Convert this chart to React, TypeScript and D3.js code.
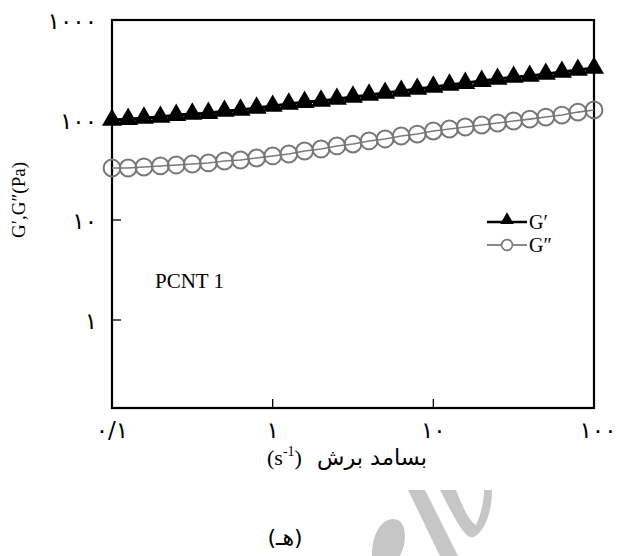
import React from "react";
import * as d3 from "d3";

const freq: number[] = [
  0.1, 0.126, 0.158, 0.2, 0.251, 0.316, 0.398, 0.501, 0.631, 0.794,
  1, 1.26, 1.58, 2, 2.51, 3.16, 3.98, 5.01, 6.31, 7.94,
  10, 12.6, 15.8, 20, 25.1, 31.6, 39.8, 50.1, 63.1, 79.4, 100,
];
const gPrime: number[] = [
  100, 102, 105, 107, 112, 115, 117, 123, 126, 132,
  138, 145, 151, 155, 162, 170, 178, 186, 195, 204,
  214, 224, 234, 245, 257, 269, 275, 288, 302, 316, 331,
];
const gDouble: number[] = [
  33.1, 33.1, 33.9, 34.7, 35.5, 36.3, 37.2, 38.9, 39.8, 41.7,
  43.7, 45.7, 49.0, 51.3, 55.0, 57.5, 61.7, 64.6, 69.2, 72.4,
  77.6, 81.3, 85.1, 89.1, 93.3, 97.7, 102, 107, 112, 120, 126,
];
const xTicks: number[] = [0.1, 1, 10, 100];
const xTickLabels: string[] = ["۰/۱", "۱", "۱۰", "۱۰۰"];
const yTicks: number[] = [1, 10, 100, 1000];
const yTickLabels: string[] = ["۱", "۱۰", "۱۰۰", "۱۰۰۰"];

const W = 618;
const H = 556;
const left = 112;
const right = 594;
const top = 20;
const bottom = 408;

const serif = "'Liberation Serif', 'Times New Roman', serif";
const arab = "'DejaVu Sans', sans-serif";

export default function App() {
  const x = d3.scaleLog().domain([0.1, 100]).range([left, right]);
  const y = d3.scaleLog().domain([1, 1000]).range([320, top]);

  const line = d3
    .line<number>()
    .x((_, i) => x(freq[i]))
    .y((d) => y(d));

  const tri = d3.symbol().type(d3.symbolTriangle).size(175)();
  const triSmall = d3.symbol().type(d3.symbolTriangle).size(80)();

  return (
    <svg
      width={W}
      height={H}
      style={{ position: "absolute", left: 0, top: 0, background: "#fff" }}
    >
      <rect x={0} y={0} width={W} height={H} fill="#fff" />
      {/* watermark */}
      <g fill="#c6c6c6">
        <path d="M372,556 C372,530 385,515 398,520 C408,526 406,545 400,556 Z M384,556 C383,540 388,532 392,540 C394,547 392,556 392,556 Z" />
        <path d="M408,490 L425,490 L458,556 L440,556 Z" />
        <path d="M440,490 L456,490 C462,505 468,520 476,525 C482,512 484,500 484,490 L492,490 C492,510 486,530 474,537 C466,540 458,525 440,490 Z" />
      </g>

      {/* frame */}
      <rect
        x={left}
        y={top}
        width={right - left}
        height={bottom - top}
        fill="none"
        stroke="#000"
        strokeWidth={2.2}
      />
      {yTicks.slice(0, 3).map((t) => (
        <line
          key={"yt" + t}
          x1={left}
          x2={left + 9}
          y1={y(t)}
          y2={y(t)}
          stroke="#000"
          strokeWidth={1.3}
        />
      ))}
      {xTicks.slice(1, 3).map((t) => (
        <line
          key={"xt" + t}
          x1={x(t)}
          x2={x(t)}
          y1={bottom}
          y2={bottom - 9}
          stroke="#000"
          strokeWidth={1.3}
        />
      ))}

      {yTicks.map((t, i) => (
        <text
          key={"yl" + t}
          x={97}
          y={y(t)}
          dy="0.38em"
          textAnchor="end"
          fontFamily={arab}
          fontSize={23}
          letterSpacing={3}
          direction="ltr"
        >
          {yTickLabels[i]}
        </text>
      ))}
      {xTicks.map((t, i) => (
        <text
          key={"xl" + t}
          x={x(t) + (i === 3 ? 4 : 0)}
          y={438}
          textAnchor="middle"
          fontFamily={arab}
          fontSize={23}
          letterSpacing={3}
          direction="ltr"
        >
          {xTickLabels[i]}
        </text>
      ))}

      {/* G'' series */}
      <path
        d={line(gDouble) || ""}
        fill="none"
        stroke="#7a7a7a"
        strokeWidth={1.6}
      />
      {gDouble.map((v, i) => (
        <circle
          key={"c" + i}
          cx={x(freq[i])}
          cy={y(v)}
          r={8.4}
          fill="#fff"
          fillOpacity={0}
          stroke="#777"
          strokeWidth={2}
        />
      ))}

      {/* G' series */}
      <path d={line(gPrime) || ""} fill="none" stroke="#000" strokeWidth={3} />
      {gPrime.map((v, i) => (
        <path
          key={"t" + i}
          d={tri || ""}
          transform={`translate(${x(freq[i])},${y(v)})`}
          fill="#000"
        />
      ))}

      {/* legend */}
      <line x1={487} x2={527} y1={222} y2={222} stroke="#000" strokeWidth={2.6} />
      <path d={triSmall || ""} transform="translate(507,220)" fill="#000" />
      <text x={529} y={229} fontFamily={serif} fontSize={20}>
        G′
      </text>
      <line x1={487} x2={527} y1={245} y2={245} stroke="#888" strokeWidth={2.2} />
      <circle cx={507} cy={245} r={5.4} fill="#fff" stroke="#777" strokeWidth={1.6} />
      <text x={529} y={252} fontFamily={serif} fontSize={20}>
        G″
      </text>

      <text x={155} y={288} fontFamily={serif} fontSize={21}>
        PCNT 1
      </text>

      <text
        transform="translate(25,200) rotate(-90)"
        textAnchor="middle"
        fontFamily={serif}
        fontSize={19}
      >
        G′,G″(Pa)
      </text>

      {/* x axis title */}
      <text x={267} y={465} fontFamily={serif} fontSize={22} direction="ltr">
        (s<tspan dy={-9} fontSize={14}>-1</tspan>
        <tspan dy={9}>)</tspan>
      </text>
      <text
        x={317}
        y={465}
        textAnchor="start"
        direction="ltr"
        fontFamily={arab}
        fontSize={22}
        textLength={110}
        lengthAdjust="spacingAndGlyphs"
      >
        {"\u202Bبسامد برش\u202C"}
      </text>

      <text
        x={285}
        y={545}
        textAnchor="middle"
        direction="rtl"
        fontFamily={arab}
        fontSize={22}
      >
        (هـ)
      </text>
    </svg>
  );
}
